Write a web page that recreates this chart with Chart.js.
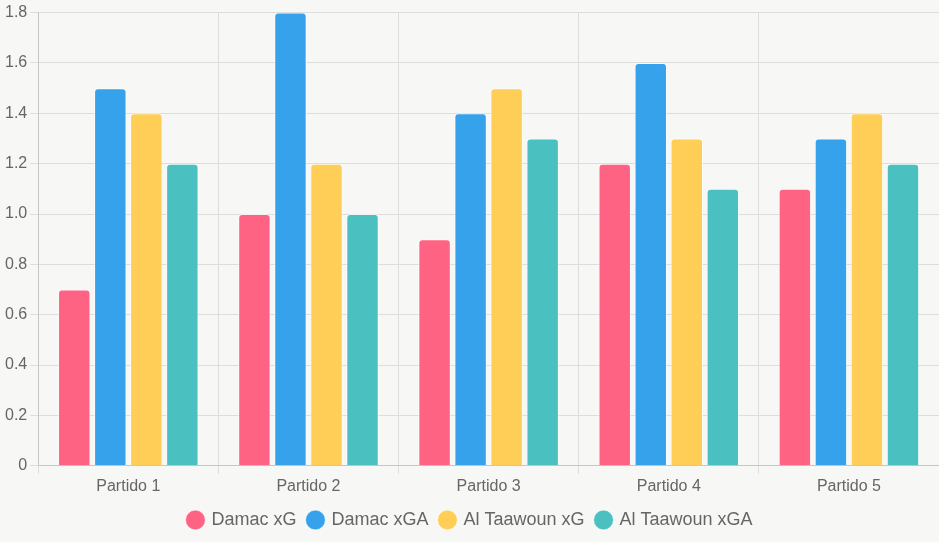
<!DOCTYPE html>
<html>
<head>
<meta charset="utf-8">
<script src="https://cdn.jsdelivr.net/npm/chart.js@4/dist/chart.umd.min.js"></script>
<style>
  html, body { margin: 0; padding: 0; background: #f7f7f5; }
  #wrap { width: 939px; height: 542px; position: relative; }
</style>
</head>
<body>
<div id="wrap"><canvas id="xg-chart"></canvas></div>
<script>
const matches = ['Partido 1', 'Partido 2', 'Partido 3', 'Partido 4', 'Partido 5'];
const damacXG = [0.7, 1.0, 0.9, 1.2, 1.1];
const damacXGA = [1.5, 1.8, 1.4, 1.6, 1.3];
const taawounXG = [1.4, 1.2, 1.5, 1.3, 1.4];
const taawounXGA = [1.2, 1.0, 1.3, 1.1, 1.2];

Chart.defaults.font.family = '"Liberation Sans", Arial, sans-serif';
Chart.defaults.color = '#666';

new Chart(document.getElementById('xg-chart'), {
  type: 'bar',
  data: {
    labels: matches,
    datasets: [
      { label: 'Damac xG', data: damacXG, backgroundColor: '#FF6384' },
      { label: 'Damac xGA', data: damacXGA, backgroundColor: '#36A2EB' },
      { label: 'Al Taawoun xG', data: taawounXG, backgroundColor: '#FFCE56' },
      { label: 'Al Taawoun xGA', data: taawounXGA, backgroundColor: '#4BC0C0' },
    ],
  },
  options: {
    responsive: true,
    maintainAspectRatio: false,
    animation: false,
    layout: { padding: { left: 2, bottom: 3 } },
    datasets: {
      bar: { borderColor: 'rgba(255,255,255,0.6)', borderWidth: 1, borderRadius: 4, borderSkipped: 'bottom' },
    },
    plugins: {
      legend: {
        position: 'bottom',
        labels: { usePointStyle: true, pointStyle: 'circle', font: { size: 18 }, boxWidth: 14, boxHeight: 14, padding: 12 },
      },
    },
    scales: {
      x: { ticks: { font: { size: 16 } }, grid: { color: '#ddd' } },
      y: {
        beginAtZero: true,
        max: 1.8,
        ticks: { stepSize: 0.2, font: { size: 16 } },
        grid: { color: '#ddd' },
      },
    },
  },
});
</script>
</body>
</html>
